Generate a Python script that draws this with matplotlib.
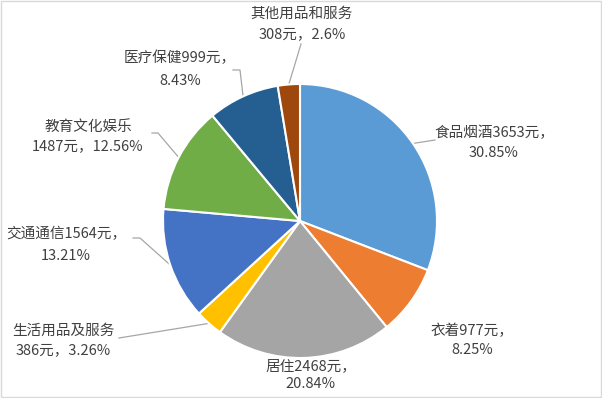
import numpy as np
import matplotlib.pyplot as plt
from matplotlib.patches import Rectangle

plt.rcParams['font.family'] = ['Noto Sans CJK SC', 'DejaVu Sans']

categories = ['食品烟酒', '衣着', '居住', '生活用品及服务', '交通通信',
              '教育文化娱乐', '医疗保健', '其他用品和服务']
amounts = [3653, 977, 2468, 386, 1564, 1487, 999, 308]
percents = ['30.85%', '8.25%', '20.84%', '3.26%', '13.21%', '12.56%', '8.43%', '2.6%']
colors = ['#5B9BD5', '#ED7D31', '#A5A5A5', '#FFC000', '#4472C4',
          '#70AD47', '#255E91', '#9E480E']

# label layout in pixel coords: (line1, line2, x, y1, y2)
label_text = [
    ('食品烟酒{}元，', '{}', 494, 133, 153),
    ('衣着{}元，', '{}', 472, 331, 350),
    ('居住{}元，', '{}', 311, 366, 384),
    ('生活用品及服务', '{}元，{}', 63, 331, 350),
    ('交通通信{}元，', '{}', 66, 234, 256),
    ('教育文化娱乐', '{}元，{}', 88, 127, 146),
    ('医疗保健{}元，', '{}', 180, 58, 81),
    ('其他用品和服务', '{}元，{}', 302, 14, 34),
]
# leader line elbow points (pixel coords), None = no line
leader_ends = [
    [(435, 140)], None, None, [(119, 338)],
    [(140, 238), (133, 238)], [(158, 133), (152, 133)],
    [(240, 70), (233, 70)], [(301, 44)],
]

cx, cy, r = 300, 221, 137

fig = plt.figure(figsize=(6.02, 3.98), dpi=100)
ax = fig.add_axes([0, 0, 1, 1])

# y axis is flipped below, so counterclock in data = clockwise on screen
wedges, _ = ax.pie(amounts, colors=colors, startangle=-90, counterclock=True,
                   center=(cx, cy), radius=r, frame=True,
                   wedgeprops=dict(edgecolor='white', linewidth=1.5))
ax.set_xlim(0, 602)
ax.set_ylim(398, 0)
ax.set_aspect('auto')
ax.axis('off')

for i, w in enumerate(wedges):
    ang = np.deg2rad((w.theta1 + w.theta2) / 2)
    ex = cx + r * np.cos(ang)
    ey = cy + r * np.sin(ang)
    if leader_ends[i] is not None:
        xs = [ex] + [p[0] for p in leader_ends[i]]
        ys = [ey] + [p[1] for p in leader_ends[i]]
        ax.plot(xs, ys, color='#A6A6A6', linewidth=0.9, zorder=0.5)

    l1, l2, x, y1, y2 = label_text[i]
    if '{}' in l1:
        t1 = l1.format(amounts[i])
        t2 = l2.format(percents[i])
    else:
        t1 = l1
        t2 = l2.format(amounts[i], percents[i])
    ax.text(x, y1, t1, ha='center', va='center', fontsize=10.5, color='#404040')
    ax.text(x, y2, t2, ha='center', va='center', fontsize=10.5, color='#404040')

ax.add_patch(Rectangle((1, 1), 600, 396, fill=False, edgecolor='#D9D9D9',
                       linewidth=1, zorder=5))

fig.savefig('out.png', dpi=100, facecolor='white')
